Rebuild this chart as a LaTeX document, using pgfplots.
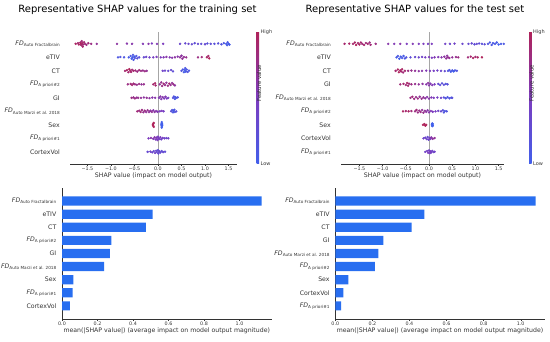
\documentclass[border=0pt]{standalone}
\usepackage{pgfplots}
\usepackage{pgfplotstable}
\pgfplotsset{compat=1.18}
\usepackage{fontspec}
\setmainfont{DejaVu Sans}
\definecolor{txt}{HTML}{333333}
\definecolor{barblue}{RGB}{40,110,240}
\pgfplotsset{colormap={shapcm}{rgb255(0cm)=(65,95,235); rgb255(1cm)=(125,60,190); rgb255(2cm)=(175,35,90)}}
\newcommand\lab{\fontsize{6.2bp}{7.4bp}\selectfont}
\newcommand\subs[1]{\raisebox{-0.35ex}{\fontsize{4.2bp}{5bp}\selectfont #1}}
\newcommand\FD[1]{\textit{FD}\subs{#1}}

\pgfplotstableread{
x y c
-1.75 9 0.95
-1.70 9.05 0.9
-1.68 8.95 0.95
-1.65 9.1 0.9
-1.64 9 1
-1.63 8.9 0.92
-1.62 9.2 0.85
-1.61 9.05 0.95
-1.60 8.8 0.9
-1.59 8.95 0.88
-1.57 9.12 0.9
-1.55 9 0.85
-1.52 8.93 0.8
-1.48 9.05 0.85
-1.42 9 0.8
-1.30 9 0.7
-0.87 9 0.65
-0.66 9.02 0.6
-0.55 9 0.6
-0.32 9 0.55
-0.20 9 0.6
-0.13 9.03 0.5
-0.02 9 0.55
0.11 9 0.5
0.47 9 0.35
0.58 9.03 0.3
0.65 9 0.35
0.72 8.97 0.3
0.78 9.05 0.25
0.85 9 0.3
0.92 9 0.25
1.00 8.97 0.3
1.05 9.03 0.2
1.12 9 0.25
1.20 9 0.2
1.28 9.03 0.2
1.35 8.97 0.15
1.40 9.05 0.1
1.45 9 0.05
1.47 8.9 0.05
1.48 9.12 0.1
1.50 9 0.0
1.52 8.95 0.05
-0.85 8 0.1
-0.80 8.03 0.15
-0.72 8 0.1
-0.62 8 0.05
-0.58 8.1 0.1
-0.56 7.9 0.0
-0.54 8 0.05
-0.53 8.18 0.1
-0.52 7.82 0.1
-0.50 8.05 0.0
-0.49 7.95 0.15
-0.46 8.1 0.1
-0.44 7.92 0.2
-0.40 8 0.2
-0.30 8 0.3
-0.25 8.03 0.35
-0.18 8 0.4
-0.10 8 0.45
-0.03 8.03 0.5
0.06 8 0.5
0.12 8 0.55
0.18 8.03 0.6
0.25 8 0.55
0.30 7.97 0.6
0.36 8 0.65
0.42 8.05 0.6
0.47 8 0.7
0.50 8.12 0.65
0.52 7.9 0.7
0.55 8.02 0.7
0.60 8 0.75
0.85 8 0.8
0.93 8.02 0.85
1.04 8 0.95
1.07 8.1 0.9
1.09 7.92 1
-0.70 7 0.9
-0.66 7.05 0.95
-0.63 6.9 0.9
-0.61 7.12 1
-0.59 7 0.95
-0.57 6.92 0.9
-0.55 7.08 0.85
-0.52 7 0.9
-0.48 7.03 0.85
-0.44 6.95 0.8
-0.40 7.05 0.85
-0.36 7 0.8
-0.32 7.02 0.75
-0.28 6.97 0.8
-0.24 7 0.7
0.10 7 0.4
0.15 7.02 0.35
0.22 7 0.3
0.28 7.06 0.3
0.32 6.96 0.25
0.50 7 0.15
0.53 7.1 0.1
0.55 6.9 0.05
0.57 7.05 0.0
0.58 7.2 0.1
0.59 6.95 0.05
0.61 7.1 0.1
0.63 6.92 0.15
0.66 7.02 0.1
-0.64 6 0.8
-0.58 6.03 0.85
-0.55 5.95 0.9
-0.52 6.05 0.85
-0.49 6 0.8
-0.45 5.97 0.75
-0.40 6.03 0.8
-0.35 6 0.7
-0.30 6 0.75
-0.10 6 0.9
-0.06 6.08 0.95
-0.05 5.92 0.9
0.04 6 0.7
0.07 6.15 0.75
0.09 5.88 0.8
0.12 6.05 0.85
0.15 5.95 0.75
0.18 6.12 0.7
0.21 5.9 0.8
0.24 6.05 0.9
0.27 5.95 0.75
0.30 6.1 0.7
0.33 6 0.8
0.36 5.92 0.65
-0.56 5 0.8
-0.52 5.04 0.75
-0.49 4.96 0.8
-0.45 5.02 0.7
-0.42 5 0.75
-0.36 5 0.7
-0.30 5.03 0.65
-0.24 5 0.7
-0.18 4.98 0.65
-0.12 5.02 0.6
-0.06 5 0.6
0.02 5 0.55
0.05 5.1 0.6
0.07 4.9 0.55
0.10 5.05 0.6
0.13 4.95 0.5
0.16 5.08 0.55
0.19 4.95 0.5
0.22 5 0.45
0.32 5 0.2
0.34 5.1 0.15
0.36 4.92 0.1
0.37 5.05 0.05
0.39 5 0.1
0.42 5.03 0.15
-0.44 4 0.85
-0.40 4.05 0.8
-0.37 3.95 0.85
-0.34 4.1 0.8
-0.31 3.93 0.75
-0.28 4.05 0.8
-0.25 3.95 0.7
-0.22 4.08 0.75
-0.19 3.95 0.7
-0.16 4.05 0.65
-0.13 3.96 0.7
-0.10 4.08 0.6
-0.07 3.95 0.65
-0.04 4.03 0.6
-0.01 3.97 0.55
0.04 4 0.5
0.08 4.03 0.5
0.12 4 0.45
0.28 4 0.2
0.30 4.1 0.15
0.32 3.92 0.1
0.33 4.03 0.05
0.35 4.12 0.1
0.36 3.95 0.15
0.39 4 0.2
-0.11 3 1
-0.10 3.08 1
-0.10 2.92 1
-0.09 3.15 1
-0.09 2.85 1
0.07 3 0
0.08 3.1 0
0.08 2.9 0
0.08 3.2 0
0.08 2.8 0
0.09 3.05 0
0.09 2.95 0
-0.20 2 0.5
-0.15 2.03 0.6
-0.10 1.97 0.55
-0.07 2.08 0.6
-0.05 1.92 0.5
-0.03 2.05 0.55
-0.01 1.88 0.5
0.00 2.12 0.45
0.01 2 0.5
0.03 1.95 0.45
0.05 2.08 0.5
0.07 1.93 0.4
0.10 2.03 0.45
0.14 2 0.4
0.18 2.02 0.35
0.22 2 0.4
-0.22 1 0.3
-0.16 1.02 0.4
-0.12 0.96 0.35
-0.09 1.05 0.3
-0.06 0.92 0.4
-0.04 1.08 0.35
-0.02 0.98 0.3
0.00 1.12 0.25
0.01 0.88 0.3
0.03 1.04 0.35
0.05 0.95 0.3
0.08 1.06 0.25
0.11 0.98 0.3
0.15 1.01 0.25
}\trainbee

\pgfplotstableread{
x y c
-1.82 9 0.9
-1.72 9.02 0.95
-1.64 9 0.9
-1.60 9.1 0.95
-1.57 8.92 1
-1.53 9.05 0.9
-1.50 8.95 0.95
-1.47 9.1 0.9
-1.44 9 0.85
-1.40 8.92 0.9
-1.36 9.06 0.85
-1.32 9 0.9
-1.28 9.1 0.8
-1.26 8.93 0.85
-1.15 9 0.8
-0.88 9 0.6
-0.75 9 0.55
-0.62 9 0.6
-0.48 9 0.5
-0.35 9 0.55
-0.22 9 0.5
-0.12 9 0.5
-0.02 9 0.45
0.06 9 0.5
0.35 9 0.4
0.45 9 0.35
0.55 9.02 0.4
0.72 9 0.35
0.85 9 0.3
0.92 9.03 0.3
0.98 8.97 0.25
1.03 9 0.3
1.08 9.03 0.25
1.14 9 0.2
1.20 8.97 0.25
1.27 9 0.15
1.31 9.1 0.1
1.35 8.92 0.1
1.38 9.05 0.05
1.42 9 0.1
1.46 9.1 0.05
1.50 8.95 0.0
1.55 9 0.05
1.61 9 0.1
-0.70 8 0.05
-0.67 8.1 0.1
-0.64 7.9 0.0
-0.61 8.05 0.05
-0.58 7.95 0.1
-0.55 8.1 0.05
-0.52 7.92 0.1
-0.49 8 0.15
-0.40 8 0.25
-0.30 8.02 0.3
-0.22 8 0.35
-0.15 8.03 0.4
-0.08 8 0.45
0.00 8.02 0.5
0.06 7.97 0.5
0.12 8 0.55
0.20 8.02 0.55
0.27 8 0.6
0.33 8.05 0.65
0.37 7.92 0.7
0.39 8.12 0.65
0.41 8 0.75
0.44 7.95 0.7
0.50 8 0.7
0.58 8.02 0.75
0.63 8 0.8
0.84 8 0.85
0.90 8.05 0.9
0.95 7.95 0.95
1.00 8.03 0.9
1.05 8 0.95
1.14 8 1
-0.72 7 0.9
-0.67 7.1 0.95
-0.65 6.9 1
-0.62 7.03 0.95
-0.60 6.95 0.9
-0.58 7.12 0.95
-0.56 6.88 0.85
-0.52 7 0.9
-0.45 7 0.8
-0.38 7.02 0.75
-0.30 7 0.7
-0.22 6.98 0.65
-0.15 7 0.6
-0.06 7.02 0.55
0.02 7 0.5
0.10 7 0.45
0.18 7.02 0.4
0.26 7 0.35
0.34 6.98 0.3
0.41 7 0.15
0.44 7.06 0.1
0.47 6.94 0.05
0.50 7.04 0.1
0.53 6.96 0
0.56 7.03 0.1
0.60 7 0.15
-0.62 6 0.85
-0.55 6.03 0.9
-0.50 5.95 0.85
-0.47 6.1 0.95
-0.45 5.9 0.9
-0.43 6.05 0.85
-0.38 6 0.8
-0.30 6.02 0.75
-0.22 6 0.7
-0.14 6.03 0.65
-0.06 6 0.6
-0.02 6.1 0.65
0.00 5.92 0.6
0.03 6.05 0.55
0.07 5.95 0.55
0.12 6 0.5
0.20 6.03 0.3
0.24 5.95 0.25
0.28 6.07 0.2
0.32 5.97 0.25
0.36 6.03 0.15
0.40 6 0.2
-0.40 5 0.8
-0.36 5.08 0.85
-0.32 4.93 0.8
-0.28 5.05 0.75
-0.24 4.95 0.8
-0.20 5.08 0.7
-0.16 4.93 0.75
-0.12 5.04 0.7
-0.08 4.96 0.65
-0.04 5.06 0.6
0.00 4.95 0.6
0.05 5.03 0.55
0.10 5 0.5
0.18 5.02 0.45
0.26 5 0.4
0.32 5.03 0.2
0.36 4.97 0.15
0.40 5.05 0.1
0.44 4.96 0.15
0.48 5.02 0.1
0.50 5 0.2
-0.56 4 0.95
-0.50 4.02 0.9
-0.44 4 0.95
-0.38 4.02 0.85
-0.30 4 0.8
-0.27 4.1 0.85
-0.24 3.92 0.8
-0.21 4.05 0.75
-0.18 3.95 0.8
-0.15 4.1 0.7
-0.12 3.9 0.75
-0.09 4.04 0.7
-0.06 3.96 0.65
-0.03 4.08 0.6
0.00 3.93 0.6
0.04 4.03 0.55
0.08 3.97 0.5
0.14 4 0.45
0.20 4.03 0.4
0.26 4 0.3
0.30 4.08 0.2
0.32 3.92 0.15
0.34 4.02 0.1
0.38 4 0.15
-0.13 3 1
-0.10 3.06 1
-0.08 2.94 1
-0.06 3 1
0.06 3 0
0.07 3.1 0
0.07 2.9 0
0.08 3.05 0
0.08 2.95 0
-0.12 2 0.4
-0.08 2.05 0.35
-0.05 1.94 0.4
-0.03 2.1 0.3
-0.01 1.9 0.35
0.01 2.03 0.4
0.03 1.96 0.5
0.05 2.07 0.6
0.08 1.97 0.65
0.12 2.02 0.7
-0.08 1 0.4
-0.04 1.06 0.45
-0.02 0.93 0.5
0.00 1.1 0.4
0.02 0.9 0.45
0.03 1.03 0.5
0.05 0.96 0.45
0.07 1.07 0.4
0.10 0.98 0.35
0.12 1.01 0.4
}\testbee

\pgfplotsset{
  common/.style={
    scale only axis,
    axis x line*=bottom, axis y line*=left,
    y axis line style={draw=none},
    x axis line style={txt, line width=0.5bp},
    tick align=outside, major tick length=2bp,
    xtick style={txt, line width=0.4bp},
    ytick style={draw=none},
    ytick={1,...,9},
    yticklabel style={font=\lab, text=txt, inner sep=0pt},
    xticklabel style={font=\fontsize{4.8bp}{5.5bp}\selectfont, text=txt, inner sep=1bp},
    xlabel style={font=\lab, text=txt, inner sep=0.6bp},
  },
  bee/.style={common,
    height=132.3bp, ymin=0.1, ymax=9.9,
    xtick={-1.5,-1,-0.5,0,0.5,1,1.5},
    xticklabels={−1.5,−1.0,−0.5,0.0,0.5,1.0,1.5},
    xlabel={SHAP value (impact on model output)},
    yticklabel style={xshift=-8bp},
    colormap name=shapcm,
    point meta min=0, point meta max=1,
    colorbar,
  },
  barax/.style={common,
    height=131bp, ymin=0, ymax=10, xmin=0,
    y axis line style={draw=txt, line width=0.5bp},
    xtick={0,0.2,0.4,0.6,0.8,1.0},
    xticklabels={0.0,0.2,0.4,0.6,0.8,1.0},
    xlabel={mean(|SHAP value|) (average impact on model output magnitude)},
    yticklabel style={xshift=-3.5bp},
  },
  cbar/.style={colorbar style={
    at={(parent axis.south east)}, anchor=south west, xshift=#1,
    scale only axis, width=2.5bp, height=132.3bp,
    ytick={0,1}, yticklabels={Low,High}, yticklabel pos=right,
    major tick length=0pt, axis line style={draw=none},
    yticklabel style={font=\fontsize{5bp}{6bp}\selectfont, text=txt, inner sep=1.5bp, anchor=west},
    ylabel={Feature value},
    every axis y label/.style={at={(rel axis cs:1,0.5)}, rotate=90, anchor=center, xshift=14.5bp, font=\fontsize{5.4bp}{6bp}\selectfont, text=txt},
  }},
  beescatter/.style={scatter, only marks, mark=*, mark size=1bp,
    scatter/use mapped color={draw=mapped color, fill=mapped color},
    point meta=explicit},
}

\begin{document}
\begin{tikzpicture}
\useasboundingbox (0,0) rectangle (550bp,342bp);

\node[font=\fontsize{10bp}{12bp}\selectfont] at (137.5bp,332bp) {Representative SHAP values for the training set};
\node[font=\fontsize{10bp}{12bp}\selectfont] at (415bp,332.5bp) {Representative SHAP values for the test set};

% top-left: training beeswarm
\begin{axis}[bee, cbar=11bp,
  at={(70bp,178bp)}, anchor=south west, width=167bp,
  xmin=-1.87, xmax=1.68,
  yticklabels={CortexVol, \FD{A priori\#1}, Sex, \FD{Auto Marzi et al. 2018}, GI, \FD{A priori\#2}, CT, eTIV, \FD{Auto Fractalbrain}},
]
\addplot[gray!70, line width=0.5bp, forget plot] coordinates {(0,0.1) (0,9.9)};
\addplot[beescatter] table[x=x, y=y, meta=c] {\trainbee};
\end{axis}

% top-right: test beeswarm
\begin{axis}[bee, cbar=16.5bp,
  at={(341bp,178bp)}, anchor=south west, width=163bp,
  xmin=-1.897, xmax=1.616,
  yticklabels={\FD{A priori\#1}, CortexVol, Sex, \FD{A priori\#2}, \FD{Auto Marzi et al. 2018}, GI, CT, eTIV, \FD{Auto Fractalbrain}},
]
\addplot[gray!70, line width=0.5bp, forget plot] coordinates {(0,0.1) (0,9.9)};
\addplot[beescatter] table[x=x, y=y, meta=c] {\testbee};
\end{axis}

% bottom-left: training bars
\begin{axis}[barax,
  at={(62bp,23bp)}, anchor=south west, width=209.5bp, xmax=1.18,
  yticklabels={CortexVol, \FD{A priori\#1}, Sex, \FD{Auto Marzi et al. 2018}, GI, \FD{A priori\#2}, CT, eTIV, \FD{Auto Fractalbrain}},
]
\addplot[xbar, fill=barblue, draw=none, bar width=9.2bp] coordinates {
(0.045,1) (0.060,2) (0.064,3) (0.237,4) (0.270,5) (0.278,6) (0.473,7) (0.510,8) (1.125,9)};
\end{axis}

% bottom-right: test bars
\begin{axis}[barax,
  at={(335.3bp,23bp)}, anchor=south west, width=209.5bp, xmax=1.13,
  yticklabels={\FD{A priori\#1}, CortexVol, Sex, \FD{A priori\#2}, \FD{Auto Marzi et al. 2018}, GI, CT, eTIV, \FD{Auto Fractalbrain}},
]
\addplot[xbar, fill=barblue, draw=none, bar width=9.2bp] coordinates {
(0.031,1) (0.043,2) (0.070,3) (0.214,4) (0.232,5) (0.259,6) (0.412,7) (0.480,8) (1.081,9)};
\end{axis}
\end{tikzpicture}
\end{document}
